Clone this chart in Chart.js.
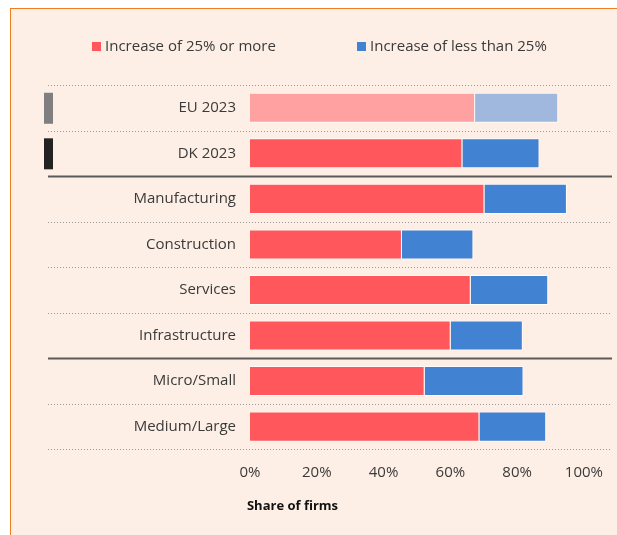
<!DOCTYPE html>
<html>
<head>
<meta charset="utf-8">
<script src="https://cdn.jsdelivr.net/npm/chart.js@4.4.1/dist/chart.umd.min.js"></script>
<style>
  html, body { margin: 0; padding: 0; background: #fff; }
  #frame {
    position: absolute; left: 10px; top: 8px; width: 607px; height: 527px;
    background: #fdefe5; border-top: 1.5px solid #ef7d22; border-left: 1.5px solid #ef7d22;
    box-sizing: border-box;
  }
  #wrap { position: absolute; left: 0; top: 0; width: 617px; height: 535px; }
</style>
</head>
<body>
<div id="frame"></div>
<div id="wrap"><canvas id="bar1"></canvas></div>
<script>
var categories = ['EU 2023', 'DK 2023', 'Manufacturing', 'Construction', 'Services', 'Infrastructure', 'Micro/Small', 'Medium/Large'];
var bigIncrease = [67.4, 63.6, 70.2, 45.5, 66.1, 60.1, 52.3, 68.7];
var smallIncrease = [24.9, 23.1, 24.7, 21.4, 23.2, 21.6, 29.6, 20.0];
var xTicks = [0, 20, 40, 60, 80, 100];

var red = ['#ffa1a1', '#ff575c', '#ff575c', '#ff575c', '#ff575c', '#ff575c', '#ff575c', '#ff575c'];
var blue = ['#a1b8de', '#4282d3', '#4282d3', '#4282d3', '#4282d3', '#4282d3', '#4282d3', '#4282d3'];
var markers = { 0: '#7f7f7f', 1: '#222222' };
var solidAfter = [2, 6];
var textColor = '#3a3a3a';

var rowLines = {
    id: 'rowLines',
    beforeDatasetsDraw: function (chart) {
        var ctx = chart.ctx;
        var y = chart.scales.y;
        ctx.save();
        for (var i = 0; i <= categories.length; i++) {
            var py = Math.round(y.getPixelForValue(i - 0.5)) + 0.5;
            ctx.beginPath();
            if (solidAfter.indexOf(i) >= 0) {
                ctx.setLineDash([]);
                ctx.strokeStyle = '#5a5a5a';
                ctx.lineWidth = 2;
            } else {
                ctx.setLineDash([1, 2]);
                ctx.strokeStyle = '#9a9a9a';
                ctx.lineWidth = 1;
            }
            ctx.moveTo(48, py);
            ctx.lineTo(612, py);
            ctx.stroke();
        }
        ctx.setLineDash([]);
        Object.keys(markers).forEach(function (k) {
            var cy = y.getPixelForValue(+k);
            ctx.fillStyle = markers[k];
            ctx.fillRect(44, cy - 15, 9, 31);
        });
        ctx.restore();
    }
};

// legend drawn by hand so the gap between the two items matches the original
var topLegend = {
    id: 'topLegend',
    afterDraw: function (chart) {
        var ctx = chart.ctx;
        var xs = [92, 357];
        ctx.save();
        ctx.font = '15px "Open Sans"';
        ctx.textBaseline = 'middle';
        chart.data.datasets.forEach(function (ds, i) {
            ctx.fillStyle = ds.backgroundColor[1];
            ctx.fillRect(xs[i], 42, 9, 9);
            ctx.fillStyle = textColor;
            ctx.fillText(ds.label, xs[i] + 13, 47);
        });
        ctx.restore();
    }
};

function barChart() {
    var el = document.getElementById('bar1').getContext('2d');
    var config = {
        type: 'bar',
        data: {
            labels: categories,
            datasets: [{
                label: 'Increase of 25% or more',
                data: bigIncrease,
                backgroundColor: red,
                borderColor: 'rgba(255,255,255,0.85)',
                borderWidth: 1
            }, {
                label: 'Increase of less than 25%',
                data: smallIncrease,
                backgroundColor: blue,
                borderColor: 'rgba(255,255,255,0.85)',
                borderWidth: 1
            }]
        },
        options: {
            indexAxis: 'y',
            responsive: true,
            maintainAspectRatio: false,
            animation: false,
            categoryPercentage: 1,
            barPercentage: 0.66,
            layout: { padding: { left: 0, right: 32, top: 85, bottom: 3 } },
            scales: {
                x: {
                    stacked: true,
                    min: 0, max: 100,
                    afterBuildTicks: function (s) { s.ticks = xTicks.map(function (v) { return { value: v }; }); },
                    afterFit: function (s) { s.height = 38; },
                    grid: { display: false, drawTicks: false },
                    border: { display: false },
                    ticks: {
                        padding: 14,
                        color: textColor,
                        font: { family: 'Open Sans', size: 15 },
                        callback: function (v) { return v + '%'; }
                    }
                },
                y: {
                    stacked: true,
                    grid: { display: false, drawTicks: false },
                    border: { display: false },
                    afterFit: function (s) { s.width = 250; },
                    ticks: {
                        padding: 14,
                        color: textColor,
                        font: { family: 'Open Sans', size: 15 }
                    }
                }
            },
            plugins: {
                legend: { display: false },
                title: {
                    display: true,
                    position: 'bottom',
                    text: 'Share of firms',
                    color: '#111',
                    padding: { top: 11, bottom: 18 },
                    font: { family: 'Open Sans', size: 13, weight: 'bold' }
                },
                tooltip: { enabled: false }
            }
        },
        plugins: [rowLines, topLegend]
    };
    new Chart(el, config);
}
barChart();
</script>
</body>
</html>
